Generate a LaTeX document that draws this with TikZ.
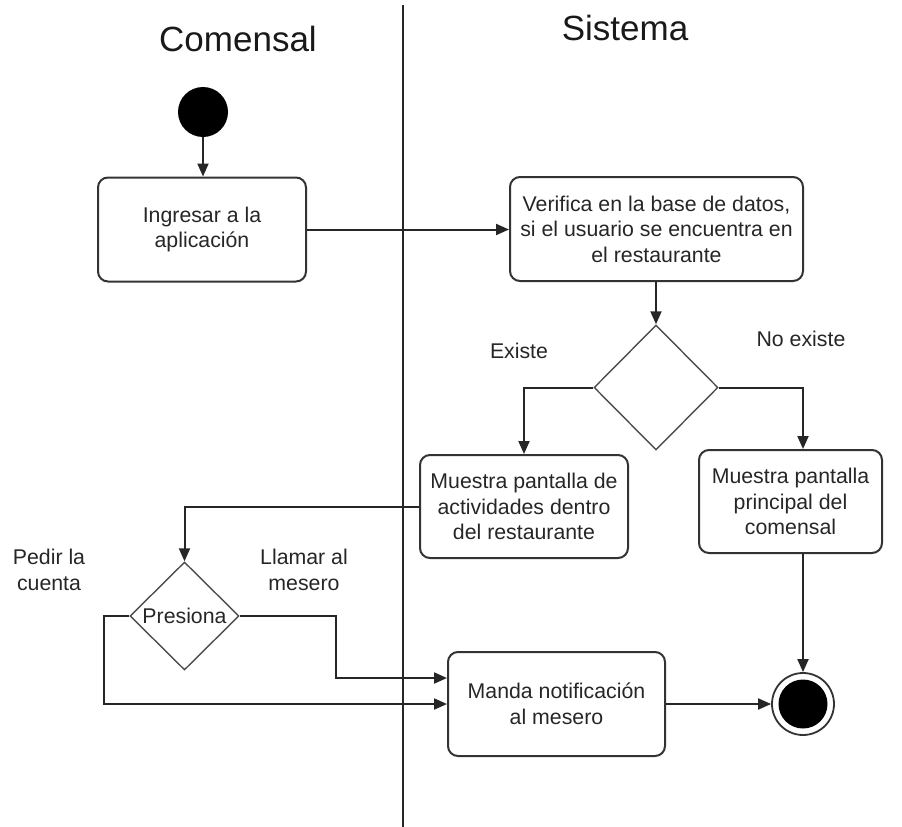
\documentclass[tikz,border=0pt]{standalone}
\usepackage{fontspec}
\setmainfont{Liberation Sans}
\usetikzlibrary{shapes.geometric,arrows.meta}

\begin{document}
\begin{tikzpicture}[x=1pt,y=-1pt,
    every node/.style={font=\fontsize{21.3}{25.5}\selectfont, text=black!85},
    action/.style={draw=black!80, line width=2pt, rounded corners=10pt,
                   align=center, inner sep=2pt},
    decision/.style={draw=black!70, line width=1.4pt, diamond, inner sep=0pt},
    flow/.style={draw=black!85, line width=2pt,
                 -{Triangle[length=13pt,width=11pt]}},
    lane/.style={draw=black!85, line width=1.6pt},
    lanetitle/.style={font=\fontsize{35}{40}\selectfont, text=black!90},
    guard/.style={align=center}]

\useasboundingbox (0,0) rectangle (902,827);

% swimlane separator and titles
\coordinate (laneTop) at (403,5);
\coordinate (laneBot) at (403,827);
\draw[lane] (laneTop) -- (laneBot);
\node[lanetitle] (tComensal) at (238,39) {Comensal};
\node[lanetitle] (tSistema) at (625,28) {Sistema};

% initial and final states
\node[circle, fill=black, minimum size=50pt, inner sep=0pt] (start) at (203,112) {};
\node[circle, draw=black!80, line width=1.8pt, minimum size=62pt, inner sep=0pt] (fin) at (803,704) {};
\node[circle, fill=black, minimum size=49pt, inner sep=0pt] (finDot) at (fin.center) {};

% actions
\node[action, minimum width=208pt, minimum height=104pt] (ingresar) at (202,229.5)
  {Ingresar a la\\aplicación};
\node[action, minimum width=293pt, minimum height=104pt] (verifica) at (656.5,229)
  {Verifica en la base de datos,\\si el usuario se encuentra en\\el restaurante};
\node[action, minimum width=208pt, minimum height=103pt] (actividades) at (524,506.5)
  {Muestra pantalla de\\actividades dentro\\del restaurante};
\node[action, minimum width=183pt, minimum height=103pt] (principal) at (790.5,501.5)
  {Muestra pantalla\\principal del\\comensal};
\node[action, minimum width=217pt, minimum height=104pt] (notifica) at (556.5,704)
  {Manda notificación\\al mesero};

% decisions
\node[decision, minimum width=124pt, minimum height=125pt] (existe) at (656,387.5) {};
\node[decision, minimum width=109pt, minimum height=108pt] (presiona) at (184.5,616) {};
\node (presionaTxt) at (presiona.center) {Presiona};

% guard labels
\node[guard] (gExiste) at (519,351) {Existe};
\node[guard] (gNoExiste) at (801,339) {No existe};
\node[guard] (gCuenta) at (49,570) {Pedir la\\cuenta};
\node[guard] (gMesero) at (304,570) {Llamar al\\mesero};

% control flow
\draw[flow] (start) -- (start |- ingresar.north);
\draw[flow] (ingresar.east) -- (verifica.west |- ingresar.east);
\draw[flow] (verifica.south -| existe.north) -- (existe.north);
\draw[flow] (existe.west) -| (actividades.north);
\draw[flow] (existe.east) -| (fin.north |- principal.north);
\draw[flow] (actividades.west) -| (presiona.north);
\coordinate (meseroBend) at (336,616);
\coordinate (cuentaBend) at (104,616);
\draw[flow] (presiona.east) -- (meseroBend) |- ([yshift=26pt]notifica.west);
\draw[flow] (presiona.west) -- (cuentaBend) |- (notifica.west);
\draw[flow] (notifica.east) -- (fin.west);
\draw[flow] (fin.north |- principal.south) -- (fin.north);

\end{tikzpicture}
\end{document}
